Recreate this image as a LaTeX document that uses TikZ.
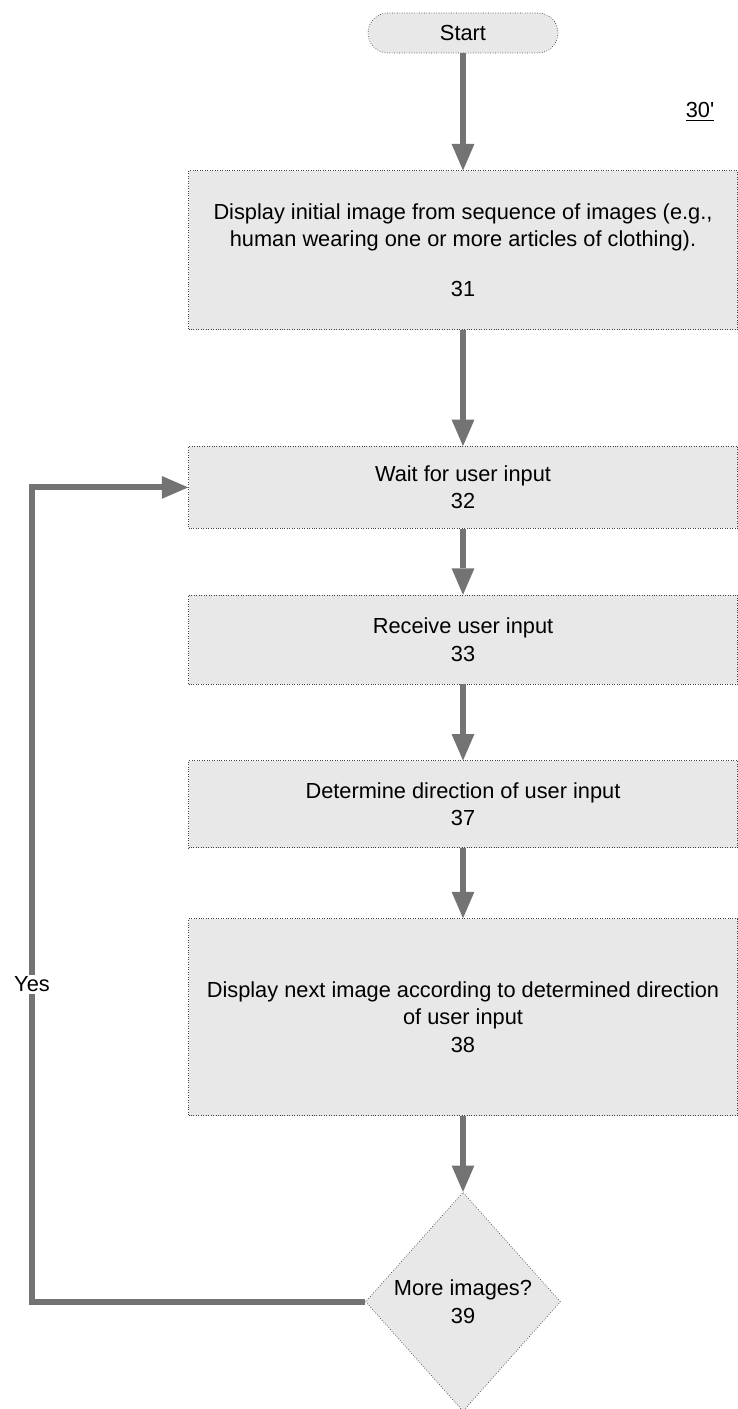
\documentclass[tikz,border=0pt]{standalone}
\usepackage{fontspec}
\setmainfont{Liberation Sans}
\usetikzlibrary{shapes.geometric, positioning, arrows.meta}

\begin{document}
\begin{tikzpicture}[>={Triangle[width=13pt,length=15pt,line width=0pt]}, font=\fontsize{12.4}{15.5}\selectfont,
    box/.style={rectangle, draw=black!75, densely dotted, fill=black!9, minimum width=10.98cm, align=center},
    term/.style={rectangle, rounded corners=0.4cm, draw=black!75, densely dotted, fill=black!9, minimum width=3.8cm, minimum height=0.8cm},
    decide/.style={diamond, draw=black!75, densely dotted, fill=black!9, minimum width=3.9cm, minimum height=4.38cm, inner sep=0pt, align=center},
    flow/.style={->, color=black!55, line width=3.5pt, solid}]
    \useasboundingbox (0,0) rectangle (14.76,-28.18);

    \node[term] (start) at (9.26,-0.66) {Start};
    \node[box, minimum height=3.18cm, below=2.34cm of start] (b31)
        {Display initial image from sequence of images (e.g.,\\human wearing one or more articles of clothing).\\[13pt]31};
    \node[box, minimum height=1.64cm, below=2.32cm of b31] (b32) {Wait for user input\\32};
    \node[box, minimum height=1.78cm, below=1.32cm of b32] (b33) {Receive user input\\33};
    \node[box, minimum height=1.74cm, below=1.52cm of b33] (b37) {Determine direction of user input\\37};
    \node[box, minimum height=3.94cm, below=1.4cm of b37] (b38)
        {Display next image according to determined direction\\of user input\\38};
    \node[decide, below=1.52cm of b38] (d39) {More images?\\39};
    \node (fig) at (14.0,-2.24) {\underline{30\textquotesingle}};

    \coordinate (rail) at (0.64,0);

    \path[flow]
    (start) edge (b31)
    (b31) edge (b32)
    (b32) edge (b33)
    (b33) edge (b37)
    (b37) edge (b38)
    (b38) edge (d39);

    % loop back when there are more images
    \draw[flow] (d39.west) -- (d39.west -| rail)
        -- node[pos=0.39, fill=white, text=black, inner sep=1pt] {Yes} (b32.west -| rail) -- (b32.west);
\end{tikzpicture}
\end{document}
